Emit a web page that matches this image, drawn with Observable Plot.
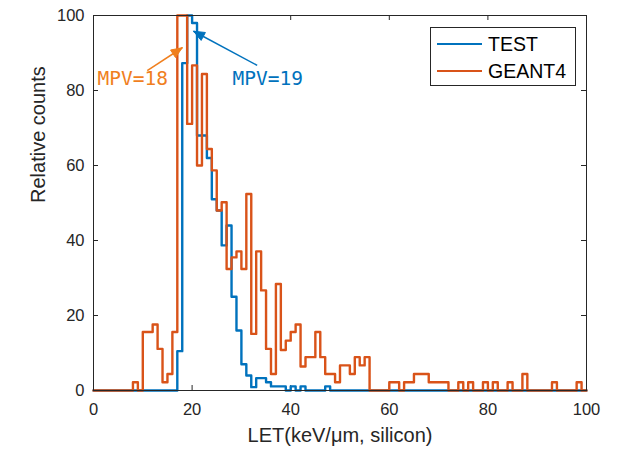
<!DOCTYPE html>
<html>
<head>
<meta charset="utf-8">
<script src="https://cdn.jsdelivr.net/npm/d3@7"></script>
<script src="https://cdn.jsdelivr.net/npm/@observablehq/plot@0.6"></script>
<style>
  html, body { margin: 0; padding: 0; background: #fff; }
  #wrap { position: relative; width: 619px; height: 454px; }
  #legend { position: absolute; left: 430px; top: 27px; width: 146px; height: 59px;
    border: 1px solid #262626; background: #fff; font-family: "Liberation Sans", Arial, sans-serif;
    font-size: 19.5px; color: #000; box-sizing: border-box; }
  .row { position: absolute; left: 0; height: 20px; display: flex; align-items: center; }
  .sw { width: 45px; height: 0; border-top: 2.5px solid; margin-left: 6px; margin-right: 6px; }
</style>
</head>
<body>
<div id="wrap">
  <div id="chart"></div>
  <div id="legend">
    <div class="row" style="top:6px"><span class="sw" style="border-color:#0072BD"></span>TEST</div>
    <div class="row" style="top:33px"><span class="sw" style="border-color:#D95319"></span>GEANT4</div>
  </div>
</div>
<script>
// Histogram bins: left edges 0..99, width 1 (keV/μm)
const binEdges = d3.range(0, 101);

const testValues = [
  0,0,0,0,0,0,0,0,0,0,
  0,0,0,0,0,0,0,10.5,87.3,100,
  98,68,68,62,51,48,38.7,44,25,16,
  7,4,0.9,3.3,3.3,2.2,1.1,1.1,1.1,0,
  1.1,0,1.1,0,0,0,0,1.1,0,0,
  0,0,0,0,0,0,0,0,0,0,
  0,0,0,0,0,0,0,0,0,0,
  0,0,0,0,0,0,0,0,0,0,
  0,0,0,0,0,0,0,0,0,0,
  0,0,0,0,0,0,0,0,0,0
];

const geantValues = [
  0,0,0,0,0,0,0,0,2.2,0,
  15.6,15.6,17.6,11.1,2.2,4.4,15.6,100,100,71.1,
  86.7,60,84.4,64.4,58.7,48,50.2,32.4,35.5,37.1,
  32.4,52.4,15.1,37.1,26.7,11.1,4.4,28.4,10.8,13.3,
  15.6,17.6,6.4,8.9,8.9,15.6,8.9,4.4,4.4,2.2,
  6.7,6.7,4.4,8.9,6.7,8.9,0,0,0,0,
  2.2,2.2,0,2.2,2.2,4.4,4.4,4.4,2.2,2.2,
  2.2,2.2,0,0,2.2,0,2.2,0,0,2.2,
  0,2.2,0,0,2.2,0,0,4.4,0,0,
  0,0,0,2.2,0,0,0,0,2.2,0
];

const xTicks = [0, 20, 40, 60, 80, 100];
const yTicks = [0, 20, 40, 60, 80, 100];

// Annotations (data coordinates)
const mpvLabels = ["MPV=18", "MPV=19"];
const mpvLabelX = [0.8, 28.2];
const mpvLabelY = [83.2, 83.2];
const arrowFromX = [10.9, 33.2];
const arrowFromY = [85.3, 86.7];
const arrowToX = [18.0, 20.3];
const arrowToY = [91.4, 95.8];
const annColors = ["#F07F1E", "#0072BD"];

const W = 619, H = 454, mL = 93, mR = 33, mT = 15, mB = 64;
const pxX = (W - mL - mR) / 100, pxY = (H - mT - mB) / 100;

function series(vals, name) {
  const out = vals.map((v, i) => ({x: binEdges[i], y: v, s: name}));
  out.push({x: binEdges[100], y: vals[vals.length - 1], s: name});
  return out;
}
const testData = series(testValues, "TEST");
const geantData = series(geantValues, "GEANT4");

const labels = mpvLabels.map((t, i) => ({t, x: mpvLabelX[i], y: mpvLabelY[i], c: annColors[i]}));
const arrows = mpvLabels.map((t, i) => ({x1: arrowFromX[i], y1: arrowFromY[i], x2: arrowToX[i], y2: arrowToY[i], c: annColors[i], id: i}));
// filled triangle heads
const heads = [];
arrows.forEach(a => {
  const sx = (a.x2 - a.x1) * pxX, sy = -(a.y2 - a.y1) * pxY;
  const n = Math.hypot(sx, sy), ux = sx / n, uy = sy / n;
  const L = 11, Wd = 9;
  const bx = -ux * L, by = -uy * L;
  const nx = -uy, ny = ux;
  const pts = [[0, 0], [bx + nx * Wd / 2, by + ny * Wd / 2], [bx - nx * Wd / 2, by - ny * Wd / 2], [0, 0]];
  pts.forEach(([px, py]) => heads.push({x: a.x2 + px / pxX, y: a.y2 - py / pxY, c: a.c, id: a.id}));
});

const chart = Plot.plot({
  width: W, height: H,
  marginLeft: mL, marginRight: mR, marginTop: mT, marginBottom: mB,
  x: {domain: [0, 100]},
  y: {domain: [0, 100]},
  style: {fontFamily: '"Liberation Sans", Arial, sans-serif', fontSize: "16px", color: "#262626", background: "#fff"},
  marks: [
    Plot.axisX({ticks: xTicks, tickSize: 0, tickPadding: 13, label: null, fontSize: 16.5}),
    Plot.axisY({ticks: yTicks, tickSize: 0, tickPadding: 9, label: null, fontSize: 16.5}),
    Plot.tickX(xTicks, {x: d => d, insetTop: (H - mT - mB) - 5, stroke: "#262626"}),
    Plot.tickX(xTicks, {x: d => d, insetBottom: (H - mT - mB) - 5, stroke: "#262626"}),
    Plot.tickY(yTicks, {y: d => d, insetRight: (W - mL - mR) - 5, stroke: "#262626"}),
    Plot.tickY(yTicks, {y: d => d, insetLeft: (W - mL - mR) - 5, stroke: "#262626"}),
    Plot.line(testData, {x: "x", y: "y", curve: "step-after", stroke: "#0072BD", strokeWidth: 2.4}),
    Plot.line(geantData, {x: "x", y: "y", curve: "step-after", stroke: "#D95319", strokeWidth: 2.4}),
    Plot.frame({stroke: "#262626", strokeWidth: 1}),
    Plot.link(arrows, {x1: "x1", y1: "y1", x2: "x2", y2: "y2", stroke: "c", strokeWidth: 1.5}),
    Plot.line(heads, {x: "x", y: "y", z: "id", fill: "c", stroke: "c", strokeWidth: 1}),
    Plot.text(labels, {x: "x", y: "y", text: "t", fill: "c", textAnchor: "start",
      fontFamily: '"DejaVu Sans Mono", monospace', fontSize: 19.5}),
    Plot.text(["LET(keV/μm, silicon)"], {frameAnchor: "bottom", dy: 51, fontSize: 20, fill: "#262626"}),
    Plot.text(["Relative counts"], {frameAnchor: "left", dx: -55, rotate: -90, fontSize: 20, fill: "#262626"})
  ]
});
document.getElementById("chart").appendChild(chart);
</script>
</body>
</html>
